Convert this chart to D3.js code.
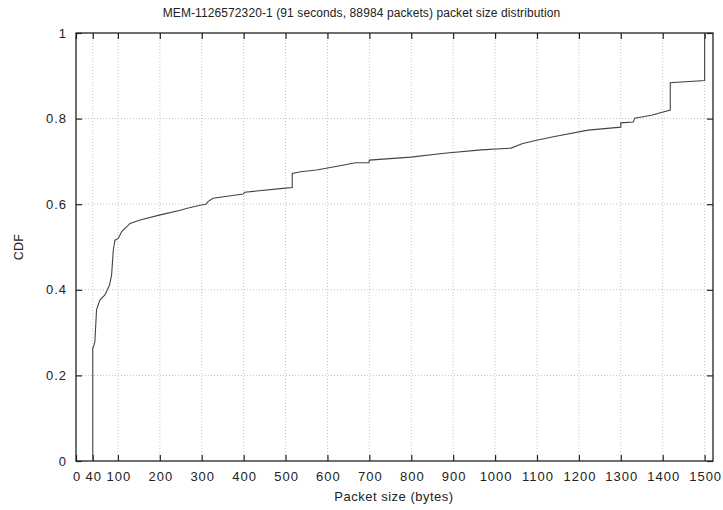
<!DOCTYPE html>
<html>
<head>
<meta charset="utf-8">
<script src="https://cdn.jsdelivr.net/npm/d3@7"></script>
<style>
  body { margin: 0; background: #fff; }
  text { font-family: "Liberation Sans", Arial, sans-serif; fill: #222; }
</style>
</head>
<body>
<div id="chart"></div>
<script>
// packet sizes (bytes) and CDF
const tailles = [40, 40, 42, 45, 49, 57, 69, 80, 85, 89, 93, 101, 109, 129, 153, 201, 249, 263, 299, 310,
  315, 327, 399, 403, 494, 516, 516, 536, 574, 620, 667, 699, 700, 799, 879, 967, 1038, 1066, 1102, 1142,
  1222, 1300, 1300, 1330, 1333, 1373, 1418, 1418, 1500, 1500];
const cdf = [0, 0.263, 0.268, 0.278, 0.353, 0.376, 0.388, 0.411, 0.435, 0.493, 0.516, 0.52, 0.536, 0.555, 0.563, 0.575, 0.586, 0.590, 0.598, 0.600,
  0.606, 0.614, 0.624, 0.628, 0.637, 0.639, 0.672, 0.676, 0.680, 0.688, 0.697, 0.697, 0.703, 0.710, 0.719, 0.727, 0.731, 0.742, 0.75, 0.758,
  0.773, 0.780, 0.790, 0.792, 0.801, 0.808, 0.820, 0.884, 0.889, 1.0];

const xTicks = [0, 40, 100, 200, 300, 400, 500, 600, 700, 800, 900, 1000, 1100, 1200, 1300, 1400, 1500];
const yTicks = [0, 0.2, 0.4, 0.6, 0.8, 1];

const titre = "MEM-1126572320-1 (91 seconds, 88984 packets) packet size distribution";

const W = 723, H = 510;
const m = {left: 76, right: 10, top: 33, bottom: 49};

const svg = d3.select("#chart").append("svg")
    .attr("width", W).attr("height", H);

const x = d3.scaleLinear().domain([0, 1520]).range([m.left, W - m.right]);
const y = d3.scaleLinear().domain([0, 1]).range([H - m.bottom, m.top]);

// grille pointillée
const grille = svg.append("g");
grille.selectAll(".gx").data(xTicks.filter(d => d > 0)).enter().append("line")
    .attr("x1", d => x(d)).attr("x2", d => x(d))
    .attr("y1", y(0)).attr("y2", y(1))
    .attr("stroke", "#c4c4c4").attr("stroke-width", 1).attr("stroke-dasharray", "1,2");
grille.selectAll(".gy").data(yTicks.filter(d => d > 0 && d < 1)).enter().append("line")
    .attr("x1", x(0)).attr("x2", x(1520))
    .attr("y1", d => y(d)).attr("y2", d => y(d))
    .attr("stroke", "#c4c4c4").attr("stroke-width", 1).attr("stroke-dasharray", "1,2");

// axes (ticks vers l'intérieur)
const axeX = svg.append("g").attr("transform", "translate(0," + y(0) + ")")
    .call(d3.axisBottom(x).tickValues(xTicks).tickFormat(d3.format("d")).tickSize(-6).tickPadding(11));
const axeXh = svg.append("g").attr("transform", "translate(0," + y(1) + ")")
    .call(d3.axisTop(x).tickValues(xTicks).tickFormat("").tickSize(-6));
const axeY = svg.append("g").attr("transform", "translate(" + x(0) + ",0)")
    .call(d3.axisLeft(y).tickValues(yTicks).tickFormat(d3.format("")).tickSize(-6).tickPadding(9));
const axeYd = svg.append("g").attr("transform", "translate(" + x(1520) + ",0)")
    .call(d3.axisRight(y).tickValues(yTicks).tickFormat("").tickSize(-6));

[axeX, axeXh, axeY, axeYd].forEach(a => {
  a.select(".domain").remove();
  a.selectAll(".tick line").attr("stroke", "#222").attr("stroke-width", 1.2);
  a.selectAll(".tick text").attr("font-size", "13px").attr("fill", "#222")
      .attr("letter-spacing", "1px")
      .attr("font-family", "Liberation Sans, Arial, sans-serif");
});
axeX.selectAll(".tick text").attr("dx", "0.5");

// cadre
svg.append("rect")
    .attr("x", x(0)).attr("y", y(1))
    .attr("width", x(1520) - x(0)).attr("height", y(0) - y(1))
    .attr("fill", "none").attr("stroke", "#222").attr("stroke-width", 1.3);

// courbe CDF
const ligne = d3.line().x((d, i) => x(tailles[i])).y(d => y(d));
svg.append("path")
    .attr("d", ligne(cdf))
    .attr("fill", "none").attr("stroke", "#444").attr("stroke-width", 1.1);

// titres
svg.append("text").attr("x", W / 2).attr("y", 17)
    .attr("text-anchor", "middle").attr("font-size", "12px").attr("letter-spacing", "0.1px").text(titre);
svg.append("text").attr("x", 394).attr("y", 501)
    .attr("text-anchor", "middle").attr("font-size", "13px").attr("letter-spacing", "0.5px").text("Packet size (bytes)");
svg.append("text").attr("transform", "translate(23," + (y(0.5)) + ") rotate(-90)")
    .attr("text-anchor", "middle").attr("font-size", "12.5px").attr("letter-spacing", "0.3px").text("CDF");
</script>
</body>
</html>
